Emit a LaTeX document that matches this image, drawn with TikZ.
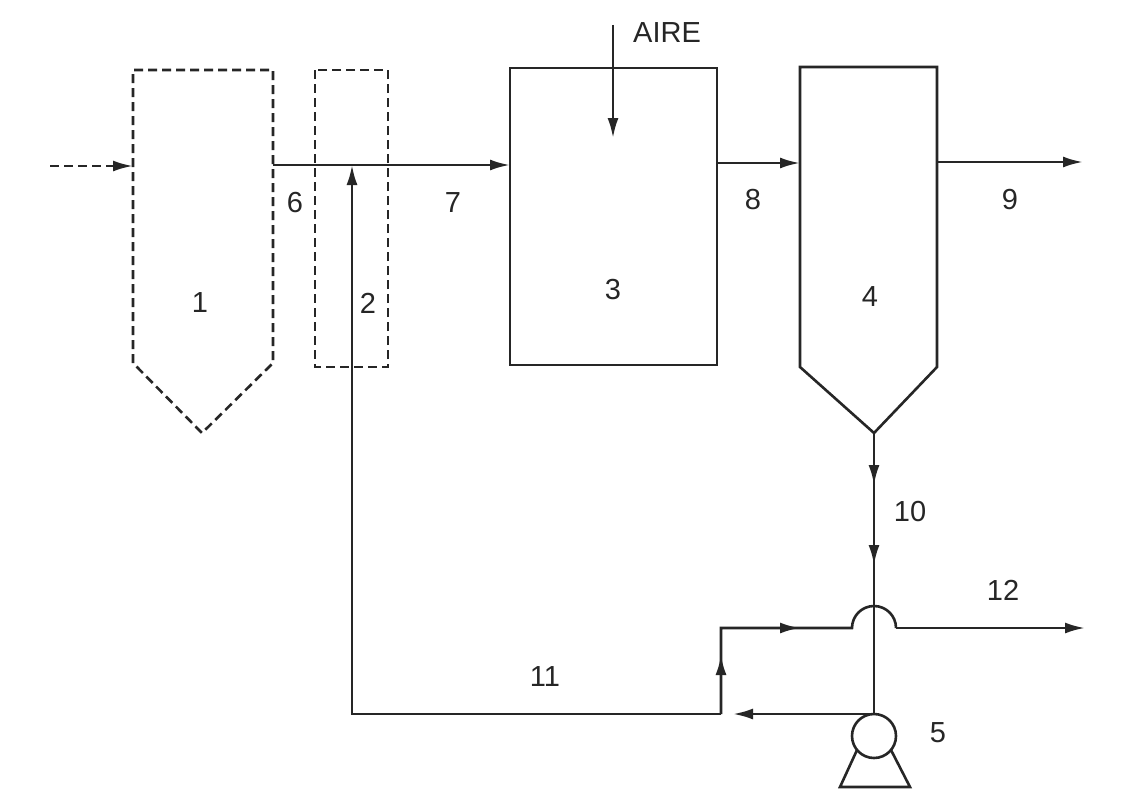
\documentclass[tikz,border=0pt]{standalone}
\usepackage{fontspec}
\setmainfont{Liberation Sans}
\usetikzlibrary{arrows.meta}
\definecolor{ink}{HTML}{262626}
\begin{document}
\begin{tikzpicture}[x=1pt,y=-1pt,
  line/.style={draw=ink, line width=2.6pt, line join=miter},
  dline/.style={line, dash pattern=on 9pt off 5pt},
  arr/.style={-{Latex[length=20pt,width=11pt]}},
  lab/.style={font=\fontsize{29}{31}\selectfont, text=ink, inner sep=0pt}]
\useasboundingbox (0,0) rectangle (1123,792);
\fill[white] (0,0) rectangle (1123,792);
% ---- unit 1 (dashed tank)
\coordinate (t1tl) at (133,70);
\coordinate (t1tr) at (273,70);
\coordinate (t1br) at (273,363);
\coordinate (t1ap) at (202,433);
\coordinate (t1bl) at (133,363);
\draw[dline] (t1bl) -- (t1tl) -- (t1tr) -- (t1br) -- (t1ap) -- cycle;
\coordinate (inl) at (50,166);
\coordinate (t1in) at (133,166);
\draw[dline,arr] (inl) -- (t1in);
% ---- unit 2 (dashed box)
\coordinate (b2a) at (315,70);
\coordinate (b2b) at (388,367);
\draw[dline] (b2a) rectangle (b2b);
% ---- unit 3
\coordinate (b3a) at (510,68);
\coordinate (b3b) at (717,365);
\draw[line] (b3a) rectangle (b3b);
\coordinate (aire0) at (613,25);
\coordinate (aire1) at (613,138);
\draw[line,arr] (aire0) -- (aire1);
% ---- unit 4
\coordinate (b4tl) at (800,67);
\coordinate (b4tr) at (937,67);
\coordinate (b4br) at (937,367);
\coordinate (b4ap) at (874,433);
\coordinate (b4bl) at (800,367);
\draw[line] (b4bl) -- (b4tl) -- (b4tr) -- (b4br) -- (b4ap) -- cycle;
% ---- streams 6/7, 8, 9
\coordinate (t1out) at (273,165);
\coordinate (b3in) at (510,165);
\draw[line,arr] (t1out) -- (b3in);
\coordinate (b3out) at (717,163);
\coordinate (b4in) at (800,163);
\draw[line,arr] (b3out) -- (b4in);
\coordinate (b4out) at (937,162);
\coordinate (o9) at (1083,162);
\draw[line,arr] (b4out) -- (o9);
% ---- stream 10
\coordinate (a1) at (874,485);
\coordinate (a2) at (874,565);
\coordinate (ptop) at (874,714);
\draw[line] (b4ap) -- (ptop);
\draw[line,arr] (b4ap) -- (a1);
\draw[line,arr] (b4ap) -- (a2);
% ---- pump 5
\node[circle, draw=ink, line width=2.6pt, minimum size=44pt, inner sep=0pt] (pump) at (874,736) {};
\coordinate (tr1) at (857,750);
\coordinate (tr2) at (840,787);
\coordinate (tr3) at (910,787);
\coordinate (tr4) at (891,750);
\draw[line] (tr1) -- (tr2) -- (tr3) -- (tr4);
% ---- recycle 11
\coordinate (ret) at (733,714);
\draw[line,arr] (ptop) -- (ret);
\coordinate (r0) at (721,714);
\coordinate (rc) at (352,714);
\coordinate (rj) at (352,165);
\draw[line,arr] (r0) -- (rc) -- (rj);
% ---- riser and stream 12
\coordinate (ru) at (721,655);
\coordinate (rk) at (721,628);
\coordinate (rm) at (800,628);
\coordinate (h0) at (852,628);
\coordinate (h1) at (896,628);
\coordinate (o12) at (1085,628);
\draw[line] (r0) -- (rk) -- (h0) arc[start angle=180, end angle=0, radius=22pt] -- (h1);
\draw[line,arr] (r0) -- (ru);
\draw[line,arr] (rk) -- (rm);
\draw[line,arr] (h1) -- (o12);
% ---- labels
\node[lab] (l1) at (200,303) {1};
\node[lab] (l2) at (368,303) {2};
\node[lab] (l3) at (613,290) {3};
\node[lab] (l4) at (870,297) {4};
\node[lab] (l5) at (938,733) {5};
\node[lab] (l6) at (295,203) {6};
\node[lab] (l7) at (453,203) {7};
\node[lab] (l8) at (753,200) {8};
\node[lab] (l9) at (1010,200) {9};
\node[lab] (l10) at (910,512) {10};
\node[lab] (l11) at (545,677) {11};
\node[lab] (l12) at (1003,590) {12};
\node[lab] (laire) at (667,33) {AIRE};
\end{tikzpicture}
\end{document}
